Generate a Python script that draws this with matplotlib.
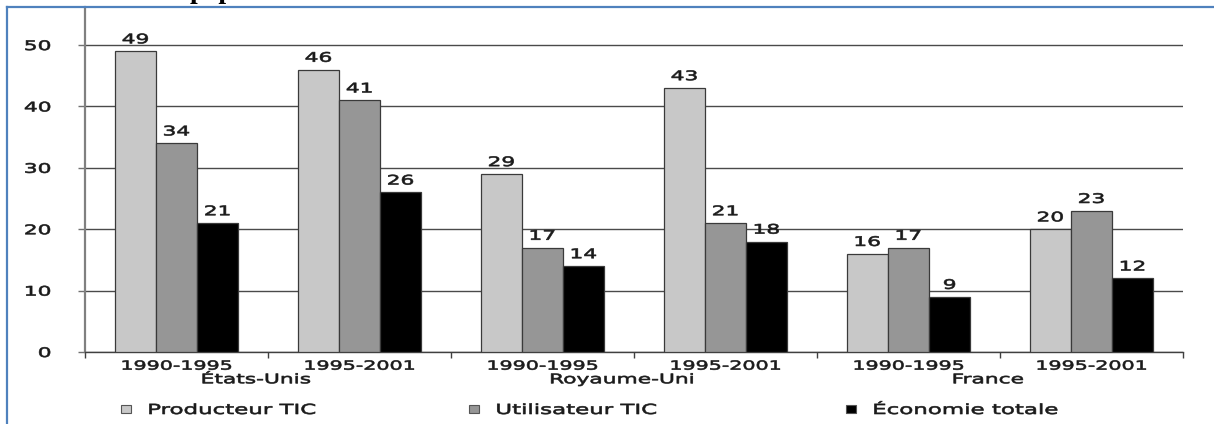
import numpy as np
import matplotlib
matplotlib.use("Agg")
import matplotlib.pyplot as plt
from matplotlib import patheffects
from matplotlib.transforms import Affine2D
from matplotlib.patches import Patch
from matplotlib.lines import Line2D

# ---------------- data ----------------
periods = ["1990-1995", "1995-2001", "1990-1995", "1995-2001", "1990-1995", "1995-2001"]
countries = ["États-Unis", "Royaume-Uni", "France"]
series_names = ["Producteur TIC", "Utilisateur TIC", "Économie totale"]
producteur = [49, 46, 29, 43, 16, 20]
utilisateur = [34, 41, 17, 21, 17, 23]
economie = [21, 26, 14, 18, 9, 12]
yticks = [0, 10, 20, 30, 40, 50]

# ---------------- style ----------------
colors = ["#c8c8c8", "#969696", "#000000"]
edge = "#3a3a3a"
txtc = "#1a1a1a"
SX = 1.65  # horizontal stretch of the reference's text


class HStretch(patheffects.AbstractPathEffect):
    """Stretch text glyphs horizontally around an anchor, with a light stroke."""
    def __init__(self, sx, anchor="center", stroke=0.45):
        super().__init__()
        self.sx = sx
        self.anchor = anchor
        self.stroke = stroke

    def draw_path(self, renderer, gc, tpath, affine, rgbFace=None):
        ext = tpath.get_extents()
        if self.anchor == "center":
            cx = (ext.x0 + ext.x1) / 2
        elif self.anchor == "right":
            cx = ext.x1
        else:
            cx = ext.x0
        t = Affine2D().translate(-cx, 0).scale(self.sx, 1).translate(cx, 0) + affine
        gc0 = renderer.new_gc()
        gc0.copy_properties(gc)
        gc0.set_linewidth(self.stroke)
        if rgbFace is not None:
            gc0.set_foreground(rgbFace)
        gc0.set_joinstyle("round")
        renderer.draw_path(gc0, tpath, t, rgbFace)
        gc0.restore()


def stretch(t, anchor="center"):
    t.set_path_effects([HStretch(SX, anchor)])
    return t


plt.rcParams["font.family"] = ["DejaVu Sans"]

W, H = 1214, 424
fig = plt.figure(figsize=(W / 100, H / 100), dpi=100)
x0, x1, y0, y1 = 85, 1183, 352, 7
ax = fig.add_axes([x0 / W, (H - y0) / H, (x1 - x0) / W, (y0 - y1) / H])

n = len(periods)
x = np.arange(n)
w = 41 / 182.6
data = [producteur, utilisateur, economie]
for i, (vals, c) in enumerate(zip(data, colors)):
    xs = x + (i - 1) * w
    ax.bar(xs, vals, width=w, color=c, edgecolor=edge, linewidth=0.9, zorder=3)
    for xi, v in zip(xs, vals):
        t = ax.annotate(str(v), (xi, v), xytext=(0, 3.5), textcoords="offset points",
                        ha="center", va="bottom", fontsize=9.5, color=txtc, zorder=4)
        stretch(t)

ax.set_xlim(-0.5, n - 0.5)
ax.set_ylim(0, 56.2)

# grid
ax.set_yticks(yticks)
ax.yaxis.grid(True, color="#4a4a4a", linewidth=1.0, zorder=0)
ax.set_axisbelow(True)
ax.tick_params(axis="y", length=5, width=1, color="#707070", pad=19.5,
               labelsize=9.5, labelcolor=txtc)
for lab in ax.get_yticklabels():
    stretch(lab, "right")

# x axis: boundary ticks + centred labels
ax.set_xticks(np.arange(n + 1) - 0.5)
ax.set_xticklabels([])
ax.tick_params(axis="x", which="major", length=4, width=1, color="#404040", direction="out")
ax.set_xticks(x, minor=True)
ax.set_xticklabels(periods, minor=True)
ax.tick_params(axis="x", which="minor", length=0, pad=5.5, labelsize=9, labelcolor=txtc)
for lab in ax.get_xticklabels(minor=True):
    stretch(lab)

for k, name in enumerate(countries):
    t = ax.annotate(name, xy=(2 * k + 0.5, 0), xycoords=("data", "axes fraction"),
                    xytext=(-8.5, -20), textcoords="offset points",
                    ha="center", va="center", fontsize=9.5, color=txtc)
    stretch(t)

for s in ["top", "right"]:
    ax.spines[s].set_visible(False)
ax.spines["left"].set_color("#808080")
ax.spines["left"].set_linewidth(1.6)
ax.spines["bottom"].set_color("#404040")
ax.spines["bottom"].set_linewidth(1.0)

# legend (three entries positioned like the reference)
leg_x = [121, 469, 846]
for name, c, lx in zip(series_names, colors, leg_x):
    h = Patch(facecolor=c, edgecolor="#555555", linewidth=0.8)
    lg = fig.legend(handles=[h], labels=[name], loc="center left",
                    bbox_to_anchor=(lx / W, (H - 410) / H), frameon=False,
                    handlelength=0.75, handleheight=0.55, handletextpad=1.2,
                    borderaxespad=0, borderpad=0, fontsize=10)
    for t in lg.get_texts():
        t.set_color(txtc)
        stretch(t, "left")

# page frame and the cut-off fragment of the page text above it
fig.add_artist(Line2D([7 / W, 1.0], [(H - 7) / H] * 2, color="#4f81bd", linewidth=1.6))
fig.add_artist(Line2D([7 / W, 7 / W], [0, (H - 7) / H], color="#4f81bd", linewidth=1.6))
fig.text(190 / W, (H + 1.5) / H, "pap", fontfamily="Liberation Serif",
         fontweight="bold", fontsize=20, va="baseline", color="black")

fig.savefig("out.png", dpi=100)
